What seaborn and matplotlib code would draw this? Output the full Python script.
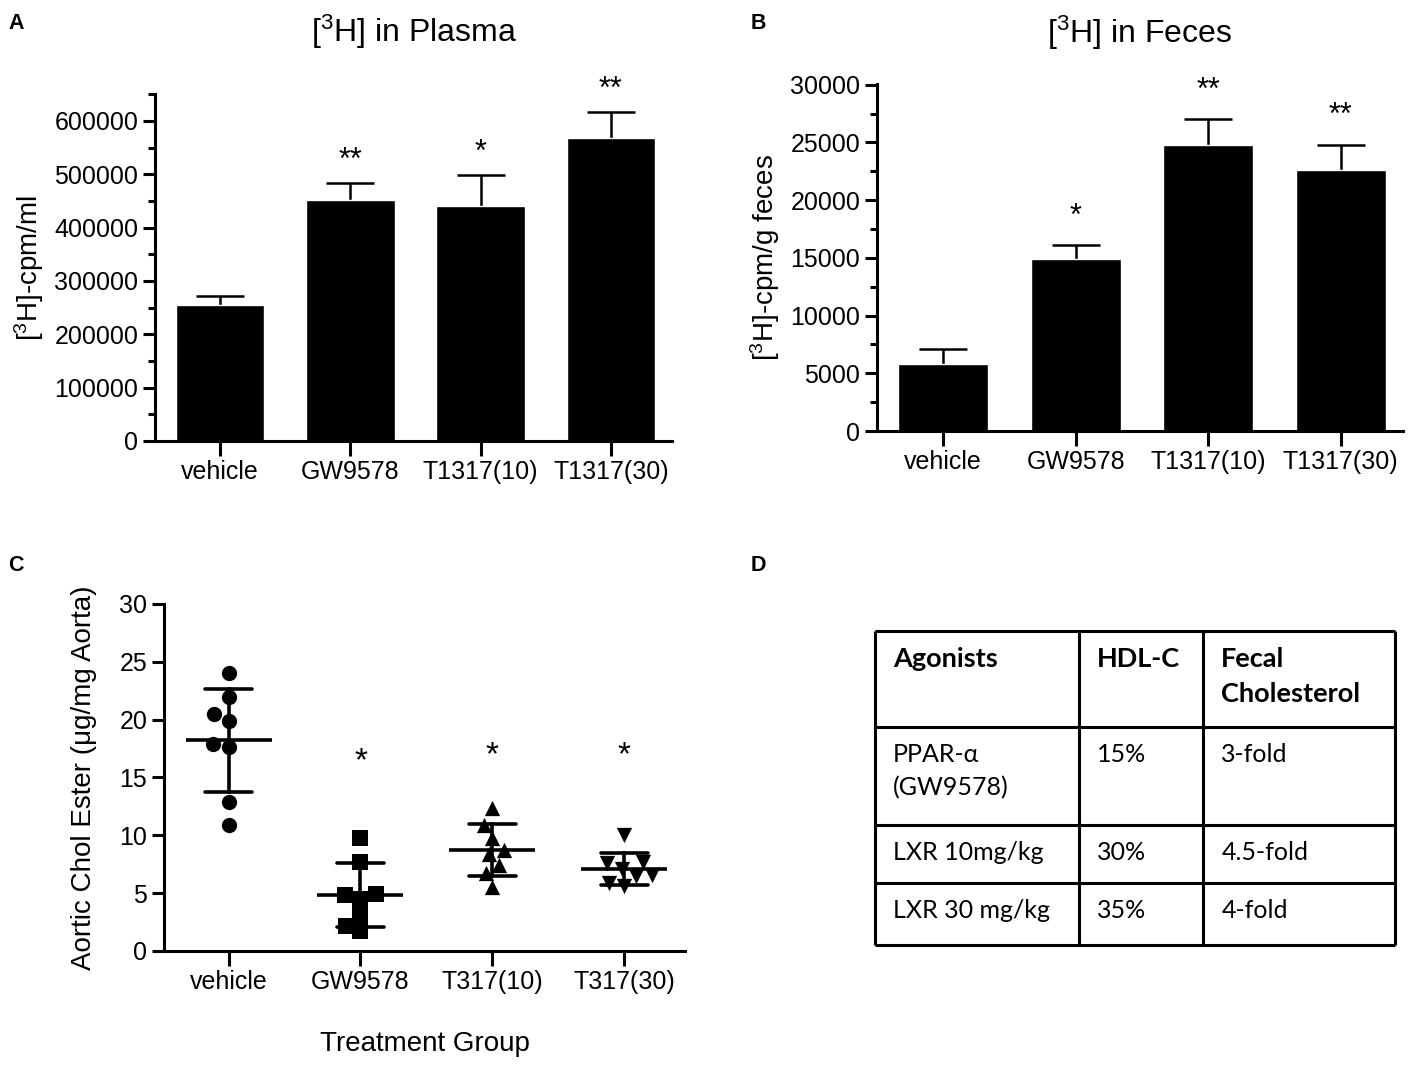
import numpy as np
import pandas as pd
import matplotlib
matplotlib.use("Agg")
import matplotlib.pyplot as plt
from matplotlib.ticker import MultipleLocator, FixedLocator
import seaborn as sns

# panel A: [3H] in plasma (mean, upper SEM)
groups_ab = ["vehicle", "GW9578", "T1317(10)", "T1317(30)"]
plasma_mean = [255500, 452700, 440200, 567300]
plasma_err = [15600, 30100, 58200, 49500]
plasma_sig = ["", "**", "*", "**"]
plasma_ticks = [0, 100000, 200000, 300000, 400000, 500000, 600000]

# panel B: [3H] in feces
feces_mean = [5800, 14930, 24780, 22610]
feces_err = [1300, 1160, 2230, 2170]
feces_sig = ["", "*", "**", "**"]
feces_ticks = [0, 5000, 10000, 15000, 20000, 25000, 30000]

# panel C: aortic cholesteryl ester, one value per animal
groups_c = ["vehicle", "GW9578", "T317(10)", "T317(30)"]
chol_vehicle = [24.0, 22.0, 20.5, 19.9, 17.9, 17.6, 12.9, 10.9]
chol_gw = [9.8, 7.7, 4.9, 4.85, 4.5, 3.1, 2.2, 1.7]
chol_t10 = [12.4, 10.9, 9.8, 8.7, 8.4, 7.4, 6.7, 5.5]
chol_t30 = [10.0, 7.7, 7.6, 7.1, 6.6, 6.5, 5.9, 5.6]
chol_markers = ["o", "s", "^", "v"]
chol_sig = ["", "*", "*", "*"]
chol_sig_y = [0, 16.4, 16.9, 16.9]
chol_ticks = [0, 5, 10, 15, 20, 25, 30]

# panel D: summary table
table_header = ["Agonists", "HDL-C", "Fecal\nCholesterol"]
table_rows = [
    ["PPAR-α\n(GW9578)", "15%", "3-fold"],
    ["LXR 10mg/kg", "30%", "4.5-fold"],
    ["LXR 30 mg/kg", "35%", "4-fold"],
]

sns.set_style("ticks")
plt.rcParams["font.family"] = ["Liberation Sans", "DejaVu Sans"]
plt.rcParams["axes.linewidth"] = 2.2
plt.rcParams["axes.edgecolor"] = "black"
plt.rcParams["text.color"] = "black"
plt.rcParams["axes.labelcolor"] = "black"
plt.rcParams["xtick.color"] = "black"
plt.rcParams["ytick.color"] = "black"

TICK_FS = 18
LABEL_FS = 20


def style_axis(ax, ticks, minor=None):
    sns.despine(ax=ax)
    ax.yaxis.set_major_locator(FixedLocator(ticks))
    ax.set_yticklabels([str(t) for t in ticks])
    if minor:
        ax.yaxis.set_minor_locator(MultipleLocator(minor))
    ax.tick_params(axis="both", which="major", width=2.2, length=9, labelsize=TICK_FS, pad=3)
    ax.tick_params(axis="y", which="minor", width=2.2, length=5)
    ax.tick_params(axis="x", length=11)


def bar_panel(ax, means, errs, sig, title, ylabel, ymax, ticks, minor, sig_pad, title_pad):
    df = pd.DataFrame({"group": groups_ab, "value": means})
    sns.barplot(data=df, x="group", y="value", color="black", saturation=1,
                width=0.68, errorbar=None, ax=ax, zorder=2)
    eb = ax.errorbar(np.arange(len(means)), means, yerr=[np.zeros(len(errs)), errs],
                     fmt="none", ecolor="black", elinewidth=1.8, capsize=17,
                     capthick=1.8, zorder=1)
    # only the upper cap is drawn (one-sided SEM)
    eb[1][0].set_visible(False)
    for i, (m, e, s) in enumerate(zip(means, errs, sig)):
        if s:
            ax.text(i, m + e + sig_pad, s, ha="center", va="bottom", fontsize=22)
    ax.set_xlim(-0.5, 3.47)
    ax.set_ylim(0, ymax)
    style_axis(ax, ticks, minor)
    ax.set_xlabel("")
    ax.set_ylabel(ylabel, fontsize=LABEL_FS, labelpad=6)
    ax.set_title(title, fontsize=23, pad=title_pad)


fig = plt.figure(figsize=(14.17, 10.69), dpi=100)
ax_a = fig.add_axes([0.1094, 0.5875, 0.3649, 0.3243])
ax_b = fig.add_axes([0.6189, 0.5968, 0.3712, 0.3250])
ax_c = fig.add_axes([0.1157, 0.1104, 0.3677, 0.3246])
ax_d = fig.add_axes([0.6175, 0.1160, 0.3670, 0.2937])

bar_panel(ax_a, plasma_mean, plasma_err, plasma_sig,
          r"[$\mathregular{^3}$H] in Plasma", r"[$\mathregular{^3}$H]-cpm/ml",
          650000, plasma_ticks, 50000, 14000, 38)
bar_panel(ax_b, feces_mean, feces_err, feces_sig,
          r"[$\mathregular{^3}$H] in Feces", r"[$\mathregular{^3}$H]-cpm/g feces",
          30100, feces_ticks, 2500, 1200, 29)

# panel C: scatter with mean +/- SD
chol_values = [chol_vehicle, chol_gw, chol_t10, chol_t30]
df_c = pd.DataFrame({
    "group": np.repeat(groups_c, [len(v) for v in chol_values]),
    "value": np.concatenate(chol_values),
})
for g, mk in zip(groups_c, chol_markers):
    sns.swarmplot(data=df_c[df_c["group"] == g], x="group", y="value", order=groups_c,
                  marker=mk, color="black", size=11, linewidth=0, ax=ax_c)
sns.pointplot(data=df_c, x="group", y="value", order=groups_c, errorbar="sd",
              color="black", linestyle="none", markers="_", markersize=62,
              markeredgewidth=2.6, capsize=0.36, err_kws={"linewidth": 2.6}, ax=ax_c)
for i, (s, y) in enumerate(zip(chol_sig, chol_sig_y)):
    if s:
        ax_c.text(i, y, s, ha="center", va="center", fontsize=24)
ax_c.set_xlim(-0.49, 3.46)
ax_c.set_ylim(0, 30)
style_axis(ax_c, chol_ticks)
ax_c.set_xlabel("Treatment Group", fontsize=LABEL_FS, labelpad=26)
ax_c.set_ylabel("Aortic Chol Ester (μg/mg Aorta)", fontsize=LABEL_FS, labelpad=16)

# panel D: table
col_edges = [0, 0.392, 0.631, 1]
row_edges = [0, 0.306, 0.618, 0.803, 1]
ax_d.set_xlim(0, 1)
ax_d.set_ylim(1, 0)
ax_d.axis("off")
ax_d.vlines(col_edges, 0, 1, color="black", lw=2.2, clip_on=False)
ax_d.hlines(row_edges, 0, 1, color="black", lw=2.2, clip_on=False)
cells = [table_header] + table_rows
for r, row in enumerate(cells):
    for c, txt in enumerate(row):
        bold = r == 0
        ax_d.text(col_edges[c] + 0.035, row_edges[r] + 0.05, txt,
                  ha="left", va="top", fontsize=19.5 if bold else 18,
                  linespacing=1.55, family=["Lato", "DejaVu Sans"],
                  fontweight="bold" if bold else "normal")

for letter, x, y in [("A", 0.006, 0.988), ("B", 0.530, 0.988),
                     ("C", 0.006, 0.481), ("D", 0.530, 0.481)]:
    fig.text(x, y, letter, fontsize=15.5, fontweight="bold", va="top", ha="left")

fig.savefig("out.png", dpi=100)
